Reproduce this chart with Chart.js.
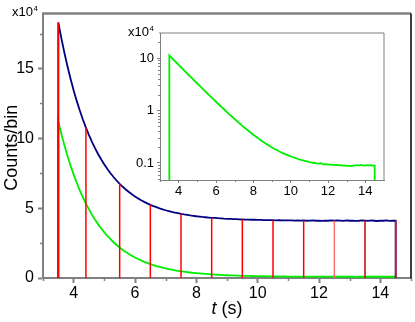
<!DOCTYPE html>
<html><head><meta charset="utf-8">
<script src="https://cdn.jsdelivr.net/npm/chart.js@4"></script>
<style>
html,body{margin:0;padding:0;background:#fff;}
#wrap{position:relative;width:415px;height:322px;overflow:hidden;}
#main{position:absolute;left:0;top:0;}
#inset{position:absolute;left:118px;top:22px;}
</style></head><body>
<div id="wrap"><canvas id="main" width="415" height="322"></canvas><canvas id="inset" width="270" height="180"></canvas></div>
<script>
// ---- data (counts per bin, units of 1e4) ----
const binStart = 3.5;
const binWidth = 0.1;
const totalCounts = [
 18.30,17.16,16.10,15.14,14.25,13.43,12.68,11.99,11.35,10.77,
 10.23,9.73,9.28,8.86,8.48,8.13,7.80,7.50,7.23,6.98,
 6.74,6.53,6.34,6.16,5.99,5.84,5.70,5.57,5.45,5.34,
 5.24,5.15,5.07,4.99,4.92,4.85,4.79,4.73,4.68,4.64,
 4.59,4.55,4.52,4.48,4.45,4.42,4.40,4.37,4.35,4.33,
 4.31,4.30,4.28,4.27,4.25,4.24,4.23,4.22,4.21,4.20,
 4.19,4.18,4.18,4.17,4.17,4.16,4.16,4.15,4.15,4.14,
 4.14,4.13,4.14,4.12,4.13,4.12,4.13,4.11,4.12,4.11,
 4.12,4.10,4.11,4.12,4.10,4.11,4.09,4.11,4.10,4.12,
 4.10,4.13,4.11,4.09,4.12,4.10,4.11,4.09,4.10,4.12,
 4.11,4.09,4.12,4.10,4.08,4.11,4.10,4.12,4.09,4.10
];
const signalCounts = [
 11.19,10.30,9.48,8.73,8.04,7.40,6.82,6.28,5.78,5.33,
 4.91,4.52,4.17,3.84,3.54,3.27,3.01,2.78,2.56,2.36,
 2.18,2.01,1.86,1.72,1.59,1.47,1.36,1.26,1.16,1.08,
 1.00,0.923,0.856,0.795,0.738,0.686,0.638,0.593,0.553,0.515,
 0.481,0.449,0.420,0.393,0.369,0.346,0.325,0.306,0.288,0.272,
 0.257,0.243,0.231,0.219,0.208,0.198,0.189,0.181,0.173,0.166,
 0.158,0.152,0.147,0.143,0.138,0.134,0.130,0.126,0.123,0.119,
 0.116,0.114,0.111,0.109,0.107,0.104,0.103,0.101,0.100,0.098,
 0.097,0.099,0.096,0.094,0.095,0.093,0.094,0.092,0.093,0.091,
 0.092,0.090,0.091,0.089,0.090,0.088,0.089,0.087,0.088,0.089,
 0.090,0.091,0.090,0.092,0.089,0.090,0.091,0.090,0.091,0.089
];
const markerTimes   = [3.5, 4.4, 5.5, 6.5, 7.5, 8.5, 9.5, 10.5, 11.5, 12.5, 13.5, 14.5];
const markerHeights = [18.30, 10.77, 6.74, 5.24, 4.59, 4.31, 4.19, 4.14, 4.12, 4.10, 4.11, 4.10];
const markerColors  = ['#ff0000','#ff0000','#ff0000','#ff0000','#ff0000','#ff0000','#ff0000','#ff0000','#ff0000','#ff7070','#cc0000','#ff0000'];

const mainXTicks = [4, 6, 8, 10, 12, 14];
const mainXMinor = [3, 5, 7, 9, 11, 13, 15];
const mainYTicks = [0, 5, 10, 15];
const mainYMinor = [2.5, 7.5, 12.5, 17.5];
const insetXTicks = [4, 6, 8, 10, 12, 14];
const insetXMinor = [3, 5, 7, 9, 11, 13];
const insetYTicks = [0.1, 1, 10];
const insetYMinor = [0.05,0.06,0.07,0.08,0.09,0.2,0.3,0.4,0.5,0.6,0.7,0.8,0.9,2,3,4,5,6,7,8,9,20];

// ---- helpers ----
Chart.defaults.font.family = "'Liberation Sans', Arial, sans-serif";
Chart.defaults.color = '#000';
const AX = '#808080';

function histPoints(vals, floor){
  const pts = [{x: binStart, y: floor}];
  vals.forEach((v, i) => pts.push({x: binStart + i * binWidth, y: v}));
  const end = binStart + vals.length * binWidth;
  pts.push({x: end, y: vals[vals.length - 1]});
  pts.push({x: end, y: floor});
  return pts;
}

const decor = {
  id: 'decor',
  afterDraw(chart, args, o){
    const {ctx, chartArea: a, scales: {x, y}} = chart;
    ctx.save();
    ctx.strokeStyle = AX; ctx.lineWidth = o.tickWidth;
    o.xMinor.forEach(v => { const p = Math.round(x.getPixelForValue(v)) + 0.5;
      ctx.beginPath(); ctx.moveTo(p, a.bottom); ctx.lineTo(p, a.bottom + o.minorLen); ctx.stroke(); });
    o.yMinor.forEach(v => { const p = Math.round(y.getPixelForValue(v)) + 0.5;
      ctx.beginPath(); ctx.moveTo(a.left, p); ctx.lineTo(a.left - o.minorLen, p); ctx.stroke(); });
    // frame
    ctx.lineWidth = o.topWidth; ctx.strokeStyle = o.topColor;
    ctx.beginPath(); ctx.moveTo(a.left - 1, a.top); ctx.lineTo(a.right, a.top); ctx.stroke();
    ctx.lineWidth = o.rightWidth; ctx.strokeStyle = o.rightColor;
    ctx.beginPath(); ctx.moveTo(a.right, a.top); ctx.lineTo(a.right, a.bottom); ctx.stroke();
    // exponent label
    ctx.fillStyle = '#000'; ctx.textBaseline = 'alphabetic'; ctx.textAlign = 'left';
    ctx.font = o.expSize + "px 'Liberation Sans', Arial, sans-serif";
    ctx.fillText('x10', o.expX, o.expY);
    const w = ctx.measureText('x10').width;
    ctx.font = Math.round(o.expSize * 0.65) + "px 'Liberation Sans', Arial, sans-serif";
    ctx.fillText('4', o.expX + w + 0.5, o.expY - o.expSize * 0.42);
    if (o.titles){
      ctx.font = "18px 'Liberation Sans', Arial, sans-serif";
      ctx.save();
      ctx.translate(o.yTitleX, (a.top + a.bottom) / 2 + 2);
      ctx.rotate(-Math.PI / 2);
      ctx.textAlign = 'center'; ctx.textBaseline = 'middle';
      ctx.fillText('Counts/bin', 0, 0);
      ctx.restore();
      const cx = (a.left + a.right) / 2;
      ctx.font = "italic 18px 'Liberation Sans', Arial, sans-serif";
      const tw = ctx.measureText('t').width;
      ctx.font = "18px 'Liberation Sans', Arial, sans-serif";
      const sw = ctx.measureText(' (s)').width;
      const x0 = cx - (tw + sw) / 2;
      ctx.textAlign = 'left'; ctx.textBaseline = 'alphabetic';
      ctx.font = "italic 18px 'Liberation Sans', Arial, sans-serif";
      ctx.fillText('t', x0, o.xTitleY);
      ctx.font = "18px 'Liberation Sans', Arial, sans-serif";
      ctx.fillText(' (s)', x0 + tw, o.xTitleY);
    }
    ctx.restore();
  }
};

// ---- main chart ----
const markerSets = markerTimes.map((t, i) => ({
  type: 'line', data: [{x: t, y: 0}, {x: t, y: markerHeights[i]}],
  borderColor: markerColors[i], borderWidth: 1.5, pointRadius: 0, order: 0
}));

new Chart(document.getElementById('main'), {
  type: 'line',
  data: { datasets: [
    ...markerSets,
    { data: histPoints(totalCounts, 0), borderColor: '#000080', borderWidth: 1.8, pointRadius: 0, order: 1 },
    { data: histPoints(signalCounts, 0), borderColor: '#00ee00', borderWidth: 1.8, pointRadius: 0, order: 2 }
  ]},
  options: {
    responsive: false, animation: false, events: [],
    layout: { padding: { top: 11, right: 4, left: 0, bottom: 0 } },
    plugins: { legend: { display: false }, tooltip: { enabled: false },
      decor: { xMinor: mainXMinor, yMinor: mainYMinor, minorLen: 3, tickWidth: 1.5,
        topColor: AX, topWidth: 2.5, rightColor: '#000', rightWidth: 1.5,
        expX: 12, expY: 16, expSize: 13, titles: true, yTitleX: 12, xTitleY: 314 } },
    scales: {
      x: { type: 'linear', min: 3, max: 15,
        afterBuildTicks: s => { s.ticks = mainXTicks.map(v => ({value: v})); },
        afterFit: s => { s.height = 44; },
        grid: { drawOnChartArea: false, drawTicks: true, tickLength: 5, tickColor: AX, tickWidth: 2 },
        border: { color: AX, width: 2 },
        ticks: { font: { size: 16 }, padding: 1, maxRotation: 0, autoSkip: false } },
      y: { type: 'linear', min: 0, max: 18.93,
        afterBuildTicks: s => { s.ticks = mainYTicks.map(v => ({value: v})); },
        afterFit: s => { s.width = 43; },
        grid: { drawOnChartArea: false, drawTicks: true, tickLength: 5, tickColor: AX, tickWidth: 2 },
        border: { color: AX, width: 2 },
        ticks: { font: { size: 16 }, padding: 4, autoSkip: false } }
    }
  },
  plugins: [decor]
});

// ---- inset (log scale) ----
new Chart(document.getElementById('inset'), {
  type: 'line',
  data: { datasets: [
    { data: histPoints(signalCounts, 0.001), borderColor: '#00ee00', borderWidth: 1.8, pointRadius: 0 }
  ]},
  options: {
    responsive: false, animation: false, events: [],
    layout: { padding: { top: 11, right: 4, left: 0, bottom: 0 } },
    plugins: { legend: { display: false }, tooltip: { enabled: false },
      decor: { xMinor: insetXMinor, yMinor: insetYMinor, minorLen: 2, tickWidth: 1,
        topColor: AX, topWidth: 1, rightColor: AX, rightWidth: 1,
        expX: 10, expY: 14, expSize: 13, titles: false } },
    scales: {
      x: { type: 'linear', min: 3, max: 15,
        afterBuildTicks: s => { s.ticks = insetXTicks.map(v => ({value: v})); },
        afterFit: s => { s.height = 22; },
        grid: { drawOnChartArea: false, drawTicks: true, tickLength: 3, tickColor: AX, tickWidth: 1 },
        border: { color: AX, width: 1 },
        ticks: { font: { size: 13 }, padding: 1, maxRotation: 0, autoSkip: false } },
      y: { type: 'logarithmic', min: 0.0474, max: 30,
        afterBuildTicks: s => { s.ticks = insetYTicks.map(v => ({value: v})); },
        afterFit: s => { s.width = 42; },
        grid: { drawOnChartArea: false, drawTicks: true, tickLength: 3, tickColor: AX, tickWidth: 1 },
        border: { color: AX, width: 1 },
        ticks: { font: { size: 13 }, padding: 3, autoSkip: false, callback: v => String(v) } }
    }
  },
  plugins: [decor]
});
</script>
</body></html>
